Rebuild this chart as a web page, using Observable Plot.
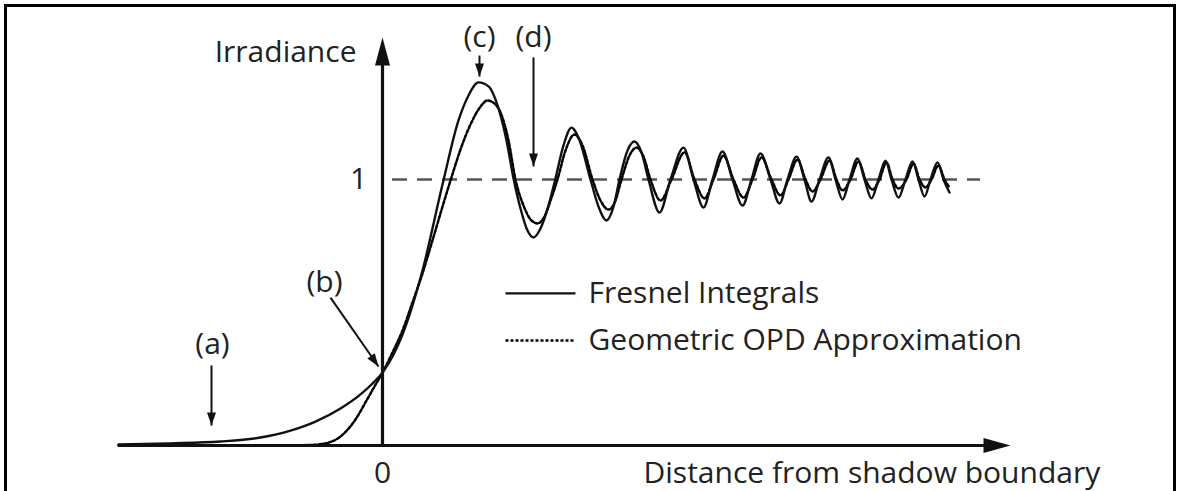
<!DOCTYPE html>
<html><head><meta charset="utf-8">
<script src="https://cdn.jsdelivr.net/npm/d3@7"></script>
<script src="https://cdn.jsdelivr.net/npm/@observablehq/plot@0.6"></script>
<style>
html,body{margin:0;padding:0;background:#fff;width:1181px;height:491px;overflow:hidden;}
#wrap{position:relative;width:1181px;height:491px;}
#frame{position:absolute;left:4px;top:4px;width:1166px;height:600px;border:3px solid #000;pointer-events:none;}
</style></head><body><div id="wrap"><div id="chart"></div><div id="frame"></div></div>
<script>
// Fresnel Integrals (solid) — distance from shadow boundary vs irradiance
const solidX = [-3.3,-2.65,-2.025,-1.525,-1.15,-0.8375,-0.525,-0.275,-0.125,0,0.25,0.5,0.75,0.95,1.075,1.2,1.325,1.45,1.55,1.6375,1.725,1.8125,1.8875,1.975,2.075,2.1625,2.2625,2.3625,2.4625,2.6,2.7,2.8,2.8875,2.9625,3.0625,3.15,3.2375,3.325,3.4625,3.6,3.7625,3.8875,4.0125,4.125,4.25,4.375,4.5,4.6125,4.725,4.85,4.9625,5.0625,5.175,5.275,5.3625,5.4625,5.575,5.6625,5.75,5.8375,5.9375,6.025,6.1125,6.2,6.2875,6.3625,6.45,6.5375,6.625,6.7,6.775,6.85,6.9375,7.0125,7.0875];
const solidY = [0.004,0.008,0.015,0.030,0.056,0.090,0.139,0.192,0.233,0.274,0.417,0.658,0.981,1.222,1.316,1.365,1.350,1.267,1.147,1.004,0.891,0.808,0.782,0.816,0.902,1.004,1.128,1.195,1.147,1.0,0.898,0.846,0.898,1.0,1.109,1.143,1.102,1.0,0.876,1.0,1.120,1.0,0.895,1.0,1.105,1.0,0.902,1.0,1.098,1.0,0.910,1.0,1.086,1.0,0.917,1.0,1.083,1.0,0.925,1.0,1.079,1.0,0.929,1.0,1.071,1.0,0.932,1.0,1.068,1.0,0.936,1.0,1.064,1.0,0.951];
// Geometric OPD Approximation (dotted)
const dottedX = [-3.3,-2.275,-1.275,-0.9,-0.7125,-0.525,-0.3375,-0.2,-0.1,0,0.125,0.25,0.375,0.5,0.625,0.75,0.85,0.975,1.1,1.225,1.3125,1.4125,1.475,1.575,1.6625,1.7625,1.85,1.9375,2.025,2.1125,2.1875,2.2875,2.4,2.5,2.625,2.725,2.825,2.9125,2.9875,3.0875,3.175,3.2625,3.35,3.475,3.6125,3.775,3.9,4.025,4.1375,4.2625,4.3875,4.5125,4.625,4.7375,4.8625,4.975,5.075,5.1875,5.2875,5.375,5.475,5.5875,5.675,5.75,5.85,5.95,6.0375,6.125,6.2125,6.3,6.375,6.45,6.55,6.6375,6.7125,6.7875,6.8625,6.95,7.025,7.0875];
const dottedY = [0,0,0,0.002,0.008,0.034,0.098,0.169,0.222,0.274,0.350,0.432,0.538,0.647,0.771,0.898,0.996,1.113,1.207,1.274,1.297,1.282,1.252,1.147,1.0,0.902,0.850,0.835,0.861,0.932,1.0,1.109,1.169,1.128,1.0,0.921,0.887,0.921,1.0,1.090,1.120,1.086,1.0,0.921,1.0,1.102,1.0,0.929,1.0,1.090,1.0,0.932,1.0,1.083,1.0,0.940,1.0,1.075,1.0,0.955,1.0,1.071,1.0,0.959,1.0,1.068,1.0,0.962,1.0,1.064,1.0,0.966,1.0,1.060,1.0,0.970,1.0,1.053,1.0,0.970];

// annotation labels and arrows
const annLabels = ["(a)","(b)","(c)","(d)"];
const annLabelX = [-2.125,-0.725,1.2125,1.8875];
const annLabelY = [0.380,0.613,1.534,1.534];
const annX1 = [-2.1375,-0.65,1.2125,1.8875];
const annY1 = [0.301,0.556,1.466,1.459];
const annX2 = [-2.1375,-0.05,1.2125,1.8875];
const annY2 = [0.075,0.297,1.387,1.049];

// axes
const xAxisStart = -3.3, xAxisTip = 7.85;
const yAxisTip = 1.534;
const refLevel = 1, refStart = 0.125, refEnd = 7.475;
const xTickLabels = ["0"], xTickValues = [0];
const yTickLabels = ["1"], yTickValues = [1];

// legend
const legendNames = ["Fresnel Integrals","Geometric OPD Approximation"];
const legendY = [0.572,0.395];
const legendLineX1 = 1.5375, legendLineX2 = 2.4125, legendTextX = 2.575;

const W = 1181, H = 491;
const xDomain = [-382/80, (W-382)/80];
const yDomain = [(445-H)/266, 445/266];
const pxPerX = W/(xDomain[1]-xDomain[0]);
const pxPerY = H/(yDomain[1]-yDomain[0]);

const solid = solidX.map((x,i)=>({x, y: solidY[i]}));
const dotted = dottedX.map((x,i)=>({x, y: dottedY[i]}));
const ann = annLabels.map((t,i)=>({t, lx: annLabelX[i], ly: annLabelY[i], x1: annX1[i], y1: annY1[i], x2: annX2[i], y2: annY2[i],
  rot: Math.atan2(-(annY2[i]-annY1[i])*pxPerY, (annX2[i]-annX1[i])*pxPerX)*180/Math.PI}));
const legend = legendNames.map((name,i)=>({name, y: legendY[i], dash: i===1}));

function head(len, half){
  return {draw(ctx){ ctx.moveTo(0,0); ctx.lineTo(-len,-half); ctx.lineTo(-len,half); ctx.closePath(); }};
}
const FONT = "'Open Sans', 'DejaVu Sans', sans-serif";
const INK = "#222";
const FS = 30;
const DOTS = "3,2";

const chart = Plot.plot({
  width: W, height: H, margin: 0,
  x: {domain: xDomain, axis: null},
  y: {domain: yDomain, axis: null},
  marks: [
    // reference level
    Plot.ruleY([refLevel], {x1: refStart, x2: refEnd, stroke: "#555", strokeWidth: 2.6, strokeDasharray: "15,10"}),
    // curves
    Plot.line(dotted, {x: "x", y: "y", curve: "monotone-x", stroke: "#000", strokeWidth: 2.5, strokeDasharray: DOTS}),
    Plot.line(solid, {x: "x", y: "y", curve: "monotone-x", stroke: "#111", strokeWidth: 2.4}),
    // axes
    Plot.ruleY([0], {x1: xAxisStart, x2: xAxisTip - 20/pxPerX, stroke: "#111", strokeWidth: 3.2}),
    Plot.ruleX([0], {y1: 0, y2: yAxisTip - 20/pxPerY, stroke: "#111", strokeWidth: 3.2}),
    Plot.dot([{x: xAxisTip, y: 0}], {x: "x", y: "y", symbol: head(27, 7.5), fill: "#111", stroke: "none", r: 10}),
    Plot.dot([{x: 0, y: yAxisTip}], {x: "x", y: "y", symbol: head(28, 7.5), rotate: -90, fill: "#111", stroke: "none", r: 10}),
    Plot.text(xTickLabels, {x: xTickValues, y: -0.105, fontSize: FS, fontFamily: FONT, fill: INK}),
    Plot.text(yTickLabels, {x: -0.3, y: yTickValues, fontSize: FS, fontFamily: FONT, fill: INK}),
    Plot.text(["Irradiance"], {x: -0.325, y: 1.476, textAnchor: "end", fontSize: FS, fontFamily: FONT, fill: INK}),
    Plot.text(["Distance from shadow boundary"], {x: 3.2625, y: -0.103, textAnchor: "start", fontSize: FS, fontFamily: FONT, fill: INK}),
    // annotations
    Plot.link(ann, {x1: "x1", y1: "y1", x2: "x2", y2: "y2", stroke: "#111", strokeWidth: 2}),
    Plot.dot(ann, {x: "x2", y: "y2", rotate: "rot", symbol: head(13, 4.5), fill: "#111", stroke: "none", r: 10}),
    Plot.text(ann, {x: "lx", y: "ly", text: "t", fontSize: FS, fontFamily: FONT, fill: INK}),
    // legend
    Plot.link(legend.filter(d=>!d.dash), {x1: legendLineX1, x2: legendLineX2, y1: "y", y2: "y", stroke: "#111", strokeWidth: 2.4}),
    Plot.link(legend.filter(d=>d.dash), {x1: legendLineX1, x2: legendLineX2, y1: "y", y2: "y", stroke: "#000", strokeWidth: 2.5, strokeDasharray: DOTS}),
    Plot.text(legend, {x: legendTextX, y: "y", text: "name", textAnchor: "start", fontSize: FS, fontFamily: FONT, fill: INK})
  ]
});
document.getElementById("chart").appendChild(chart);
</script>
</body></html>
